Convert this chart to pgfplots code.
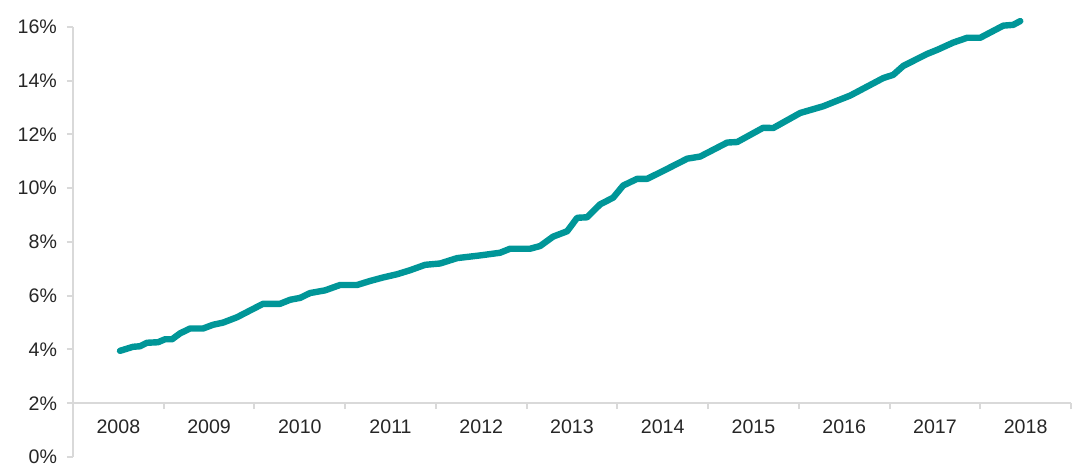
\documentclass[border=0pt]{standalone}
\usepackage{pgfplots}
\pgfplotsset{compat=1.18}
\usepackage{fontspec}
\setmainfont{Liberation Sans}
\definecolor{teal1}{RGB}{0,150,152}
\definecolor{axgray}{RGB}{217,217,217}
\begin{document}
\begin{tikzpicture}
\begin{axis}[
  scale only axis,
  width=499pt, height=215pt,
  xmin=0, xmax=11,
  ymin=-2, ymax=14,
  axis x line=middle,
  axis y line=left,
  hide obscured x ticks=false,
  hide obscured y ticks=false,
  axis line style={-, axgray, line width=1pt},
  tick style={axgray, line width=1pt},
  tick align=outside,
  major tick length=3pt,
  xtick={0,1,...,11},
  xticklabels={2008,2009,2010,2011,2012,2013,2014,2015,2016,2017,2018},
  x tick label as interval,
  ytick={-2,0,2,4,6,8,10,12,14},
  yticklabels={0\%,2\%,4\%,6\%,8\%,10\%,12\%,14\%,16\%},
  tick label style={font=\fontsize{9.8pt}{11pt}\selectfont, text=black!85},
  xticklabel style={yshift=-2pt},
  yticklabel style={xshift=-1.5pt},
  /pgf/number format/assume math mode=true,
  clip=false,
]
\addplot[teal1, line width=3.2pt, line join=round, line cap=round]
  table[x index=0, y expr=\thisrowno{1}-2] {
0.518 3.95
0.662 4.10
0.739 4.12
0.816 4.25
0.937 4.27
1.014 4.38
1.092 4.38
1.180 4.60
1.290 4.78
1.433 4.78
1.544 4.92
1.654 5.00
1.808 5.20
1.951 5.45
2.095 5.70
2.282 5.70
2.393 5.85
2.503 5.92
2.613 6.10
2.778 6.20
2.944 6.40
3.131 6.40
3.275 6.55
3.418 6.68
3.572 6.80
3.716 6.95
3.881 7.15
4.046 7.20
4.234 7.40
4.487 7.50
4.708 7.60
4.818 7.75
5.039 7.75
5.149 7.85
5.292 8.20
5.447 8.40
5.557 8.90
5.667 8.92
5.810 9.40
5.954 9.65
6.064 10.10
6.218 10.35
6.329 10.35
6.549 10.72
6.770 11.10
6.913 11.18
7.211 11.70
7.321 11.72
7.607 12.25
7.718 12.24
8.015 12.80
8.269 13.05
8.567 13.45
8.931 14.10
9.041 14.22
9.151 14.55
9.416 15.00
9.526 15.15
9.702 15.42
9.857 15.60
10.000 15.60
10.254 16.05
10.364 16.08
10.441 16.22
};
\coordinate (sw) at (rel axis cs:0,0);
\coordinate (ne) at (rel axis cs:1,1);
\end{axis}
\path ([shift={(-36.5pt,-8.5pt)}]sw) rectangle ([shift={(6pt,13.5pt)}]ne);
\end{tikzpicture}
\end{document}
